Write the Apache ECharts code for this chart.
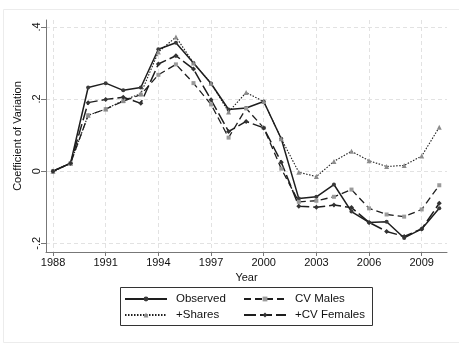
<!DOCTYPE html>
<html><head><meta charset="utf-8">
<title>Coefficient of Variation</title>
<script src="https://cdn.jsdelivr.net/npm/echarts@6/dist/echarts.min.js"></script>
<style>
  html, body { margin:0; padding:0; background:#fff; }
  #chart { width:459px; height:345px; }
</style>
</head>
<body>
<div id="chart"></div>
<script>
// data
var years = [1988,1989,1990,1991,1992,1993,1994,1995,1996,1997,1998,1999,
             2000,2001,2002,2003,2004,2005,2006,2007,2008,2009,2010];
var observed  = [0,0.022,0.232,0.244,0.224,0.232,0.338,0.356,0.300,0.243,0.171,0.175,
                 0.193,0.090,-0.076,-0.071,-0.037,-0.112,-0.142,-0.140,-0.185,-0.160,-0.103];
var cvMales   = [0,0.022,0.155,0.172,0.194,0.212,0.267,0.296,0.244,0.185,0.093,0.174,
                 0.120,0.007,-0.085,-0.082,-0.071,-0.051,-0.103,-0.120,-0.126,-0.106,-0.039];
var shares    = [0,0.022,0.155,0.172,0.196,0.215,0.330,0.372,0.300,0.244,0.164,0.218,
                 0.193,0.090,-0.003,-0.015,0.027,0.055,0.029,0.013,0.016,0.042,0.122];
var cvFemales = [0,0.022,0.190,0.199,0.205,0.188,0.297,0.320,0.283,0.198,0.110,0.138,
                 0.120,0.025,-0.097,-0.100,-0.094,-0.101,-0.142,-0.167,-0.181,-0.160,-0.089];

var xTicks = [1988,1991,1994,1997,2000,2003,2006,2009];
var yTicks = [-0.2,0,0.2,0.4];
var yTickLabels = ['-.2','0','.2','.4'];

function pairs(vals){ return years.map(function(y,i){ return [y, vals[i]]; }); }

var font = 'Liberation Sans, Arial, sans-serif';
var chart = echarts.init(document.getElementById('chart'));

function line(name, vals, type, width, symbol, size, mcolor){
  return {
    name: name, type: 'line', data: pairs(vals),
    symbol: symbol, symbolSize: size, showSymbol: true,
    lineStyle: { color: '#1e1e1e', width: width, type: type },
    itemStyle: { color: mcolor, borderWidth: 0 },
    emphasis: { disabled: true },
    animation: false
  };
}

var legendText = { fontSize: 11.5, color: '#111', lineHeight: 14, fontFamily: font, padding: [0,0,0,4] };

var option = {
  backgroundColor: '#fff',
  animation: false,
  textStyle: { fontFamily: font },
  grid: { left: 46, right: 12, top: 20, bottom: 93 },
  xAxis: {
    type: 'value', min: 1987.6, max: 2010.44,
    name: 'Year', nameLocation: 'middle', nameGap: 20,
    nameTextStyle: { color: '#111', fontSize: 11, fontFamily: font },
    axisLine: { show: true, onZero: false, lineStyle: { color: '#777', width: 1 } },
    axisTick: { show: true, length: 4, customValues: xTicks, lineStyle: { color: '#777' } },
    axisLabel: { customValues: xTicks, color: '#111', fontSize: 11, margin: 5,
                 formatter: function(v){ return String(Math.round(v)); } },
    splitLine: { show: true, lineStyle: { color: '#e2e2e2', type: [4,3], width: 1 } }
  },
  yAxis: {
    type: 'value', min: -0.224, max: 0.419,
    name: 'Coefficient of Variation', nameLocation: 'middle', nameGap: 18,
    nameTextStyle: { color: '#111', fontSize: 11, fontFamily: font },
    axisLine: { show: true, onZero: false, lineStyle: { color: '#777', width: 1 } },
    axisTick: { show: true, length: 5, customValues: yTicks, lineStyle: { color: '#777' } },
    axisLabel: { customValues: yTicks, color: '#111', fontSize: 11, rotate: 90, margin: 4,
                 formatter: function(v){
                   for (var i = 0; i < yTicks.length; i++) if (Math.abs(yTicks[i]-v) < 1e-6) return yTickLabels[i];
                   return '';
                 } },
    splitLine: { show: true, lineStyle: { color: '#e2e2e2', type: [4,3], width: 1 } }
  },
  legend: [
    { data: ['Observed', '+Shares'], orient: 'vertical', left: 124, top: 292,
      itemWidth: 42, itemHeight: 6, itemGap: 2, padding: 0, textStyle: legendText },
    { data: ['CV Males', '+CV Females'], orient: 'vertical', left: 243, top: 292,
      itemWidth: 42, itemHeight: 6, itemGap: 2, padding: 0, textStyle: legendText }
  ],
  graphic: [
    { type: 'rect', left: 1, top: 7, silent: true,
      shape: { width: 456, height: 333 },
      style: { fill: 'none', stroke: '#ececec', lineWidth: 1 }, z: -1 },
    { type: 'rect', left: 120, top: 287, silent: true,
      shape: { width: 252, height: 38 },
      style: { fill: '#fff', stroke: '#333', lineWidth: 1 }, z: -1 }
  ],
  series: [
    line('Observed', observed, 'solid', 1.5, 'circle', 4, '#3a3a3a'),
    line('CV Males', cvMales, [7,4], 1.3, 'rect', 4, '#9a9a9a'),
    line('+Shares', shares, [1.5,1.5], 1.1, 'triangle', 5, '#8c8c8c'),
    line('+CV Females', cvFemales, [12,4], 1.5, 'diamond', 5, '#333')
  ]
};
chart.setOption(option);
</script>
</body></html>
